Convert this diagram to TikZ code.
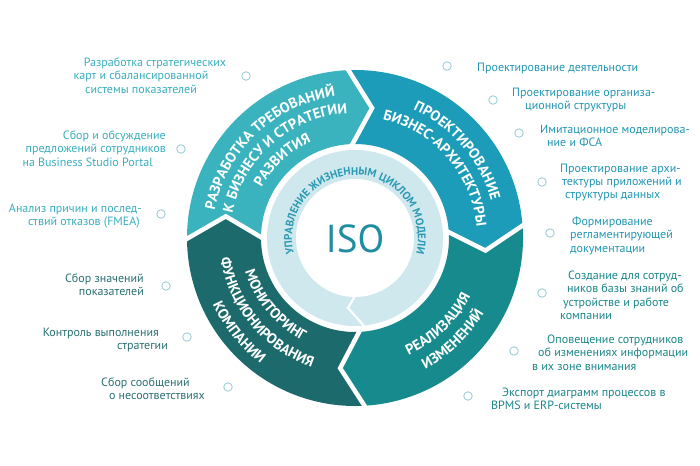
\documentclass[tikz,border=0pt]{standalone}
\usepackage{fontspec}
\setmainfont{PT Sans}
\usetikzlibrary{decorations.text}
\definecolor{segA}{HTML}{3AB3BF}
\definecolor{segB}{HTML}{1C9CB8}
\definecolor{segC}{HTML}{178A8D}
\definecolor{segD}{HTML}{1D6A6C}
\definecolor{ringlight}{HTML}{CFE8EE}
\definecolor{ringtext}{HTML}{2C9AB3}
\definecolor{isocol}{HTML}{1F8DA0}
\definecolor{txtA}{HTML}{39AEBE}
\definecolor{txtB}{HTML}{2296B3}
\definecolor{txtC}{HTML}{1B8689}
\definecolor{txtD}{HTML}{2B7072}
\definecolor{bulletcol}{HTML}{9FD0D8}
\newcommand{\segfont}{\fontsize{14.5}{14.5}\selectfont\bfseries\color{white}}
\newcommand{\ringfont}{\fontsize{11}{11}\selectfont\bfseries\color{ringtext}}
\tikzset{
  sidetext/.style={inner sep=0pt, font=\fontsize{12}{13.4}\selectfont},
  bullet/.style={circle, draw=bulletcol, line width=0.9pt, minimum size=8.5pt, inner sep=0pt},
  gapline/.style={white, line width=4.5pt},
  segtext/.style={decorate, decoration={text along path, text align=center, text={|\segfont|#1}}},
  ringlabel/.style={decorate, decoration={text along path, text align=center, text={|\ringfont|#1}}}
}
\begin{document}
\begin{tikzpicture}[x=1pt,y=1pt]
\useasboundingbox (-355,-227) rectangle (345,238);
\fill[white] (-355,-227) rectangle (345,238);
\def\Ro{168pt}\def\Ri{94pt}\def\Rm{131pt}\def\dd{10.5}
% segments
\foreach \a/\b/\c in {181/93/segA, 93/5/segB, 5/-86/segC, 274/181/segD}{
  \fill[\c] (\a:\Ro) arc[start angle=\a, end angle=\b, radius=\Ro] -- ({\b-\dd}:\Rm) -- (\b:\Ri)
     arc[start angle=\b, end angle=\a, radius=\Ri] -- ({\a-\dd}:\Rm) -- cycle;
}
\foreach \t in {181,93,5,-86}{
  \draw[gapline] (\t:172pt) -- ({\t-\dd}:\Rm) -- (\t:90pt);
}
% inner ring
\fill[ringlight] (0,0) circle[radius=88pt];
\fill[white] (0,0) circle[radius=59pt];
\draw[white, line width=2.2pt] (0,-58) -- (-7,-70) -- (10,-89);
\node[font=\fontsize{39}{39}\selectfont, text=isocol, inner sep=0pt] (iso) at (0,-0.5) {ISO};
\path[ringlabel={УПРАВЛЕНИЕ ЖИЗНЕННЫМ ЦИКЛОМ МОДЕЛИ}] (191:63pt) arc[start angle=191, end angle=-11, radius=63pt];
% segment texts
\path[segtext={РАЗРАБОТКА ТРЕБОВАНИЙ}] (178:143pt) arc[start angle=178, end angle=89, radius=143pt];
\path[segtext={К БИЗНЕСУ И СТРАТЕГИИ}] (176:125pt) arc[start angle=176, end angle=86, radius=125pt];
\path[segtext={РАЗВИТИЯ}] (170:106pt) arc[start angle=170, end angle=96, radius=106pt];
\path[segtext={ПРОЕКТИРОВАНИЕ}] (85:141pt) arc[start angle=85, end angle=-4, radius=141pt];
\path[segtext={БИЗНЕС-АРХИТЕКТУРЫ}] (86:122pt) arc[start angle=86, end angle=-4, radius=122pt];
\path[segtext={РЕАЛИЗАЦИЯ}] (-90:129pt) arc[start angle=-90, end angle=-2, radius=129pt];
\path[segtext={ИЗМЕНЕНИЙ}] (-90:149pt) arc[start angle=-90, end angle=-2, radius=149pt];
\path[segtext={МОНИТОРИНГ}] (176:115pt) arc[start angle=176, end angle=264, radius=115pt];
\path[segtext={ФУНКЦИОНИРОВАНИЯ}] (176:136pt) arc[start angle=176, end angle=264, radius=136pt];
\path[segtext={КОМПАНИИ}] (175:157pt) arc[start angle=175, end angle=263, radius=157pt];
% bullets
\foreach \n/\x/\y in {bl1/246/76, bl2/181/149, bl3/161/214, bl4/166/286, bl5/187/337, bl6/228/387,
  br1/447/66, br2/493/100, br3/519/133, br4/542/182, br5/550/233, br6/542/293, br7/514/351, br8/468/396}{
  \node[bullet] (\n) at ({\x-355},{238-\y}) {};
}
% left texts
\node[sidetext, text=txtA, align=center, anchor=north] (tl1) at (-214,180.4)
  {\hspace*{28pt}Разработка стратегических\\карт и сбалансированной\\системы показателей};
\node[sidetext, text=txtA, align=right, anchor=north east] (tl2) at (-189,107.4)
  {Сбор и обсуждение\\предложений сотрудников\hspace*{7pt}\\на Business Studio Portal\hspace*{13pt}};
\node[sidetext, text=txtA, align=right, anchor=north east] (tl3) at (-213,34.4)
  {Анализ причин и послед-\\ствий отказов (FMEA)\hspace*{2pt}};
\node[sidetext, text=txtD, align=right, anchor=north east] (tl4) at (-211,-35.6)
  {Сбор значений\\показателей};
\node[sidetext, text=txtD, align=right, anchor=north east] (tl5) at (-187,-89.6)
  {Контроль выполнения\hspace*{9pt}\\стратегии};
\node[sidetext, text=txtD, align=right, anchor=north east] (tl6) at (-150,-139.6)
  {Сбор сообщений\hspace*{15pt}\\о несоответствиях};
% right texts
\node[sidetext, text=txtB, align=left, anchor=north west] (tr1) at (122,175.4)
  {Проектирование деятельности};
\node[sidetext, text=txtB, align=left, anchor=north west] (tr2) at (157,150.4)
  {Проектирование организа-\\\hspace*{13pt}ционной структуры};
\node[sidetext, text=txtB, align=left, anchor=north west] (tr3) at (185,113.4)
  {Имитационное моделирова-\\\hspace*{7pt}ние и ФСА};
\node[sidetext, text=txtB, align=left, anchor=north west] (tr4) at (205,74.4)
  {Проектирование архи-\\\hspace*{2pt}тектуры приложений и\\\hspace*{5pt}структуры данных};
\node[sidetext, text=txtB, align=left, anchor=north west] (tr5) at (215,21.4)
  {\hspace*{2pt}Формирование\\регламентирующей\\документации};
\node[sidetext, text=txtC, align=left, anchor=north west] (tr6) at (205,-32.6)
  {\hspace*{8pt}Создание для сотруд-\\\hspace*{7pt}ников базы знаний об\\\hspace*{3pt}устройстве и работе\\компании};
\node[sidetext, text=txtC, align=left, anchor=north west] (tr7) at (177,-96.6)
  {\hspace*{15pt}Оповещение сотрудников\\\hspace*{6pt}об изменениях информации\\в их зоне внимания};
\node[sidetext, text=txtC, align=left, anchor=north west] (tr8) at (136,-149.6)
  {\hspace*{11pt}Экспорт диаграмм процессов в\\BPMS и ERP-системы};
\end{tikzpicture}
\end{document}
